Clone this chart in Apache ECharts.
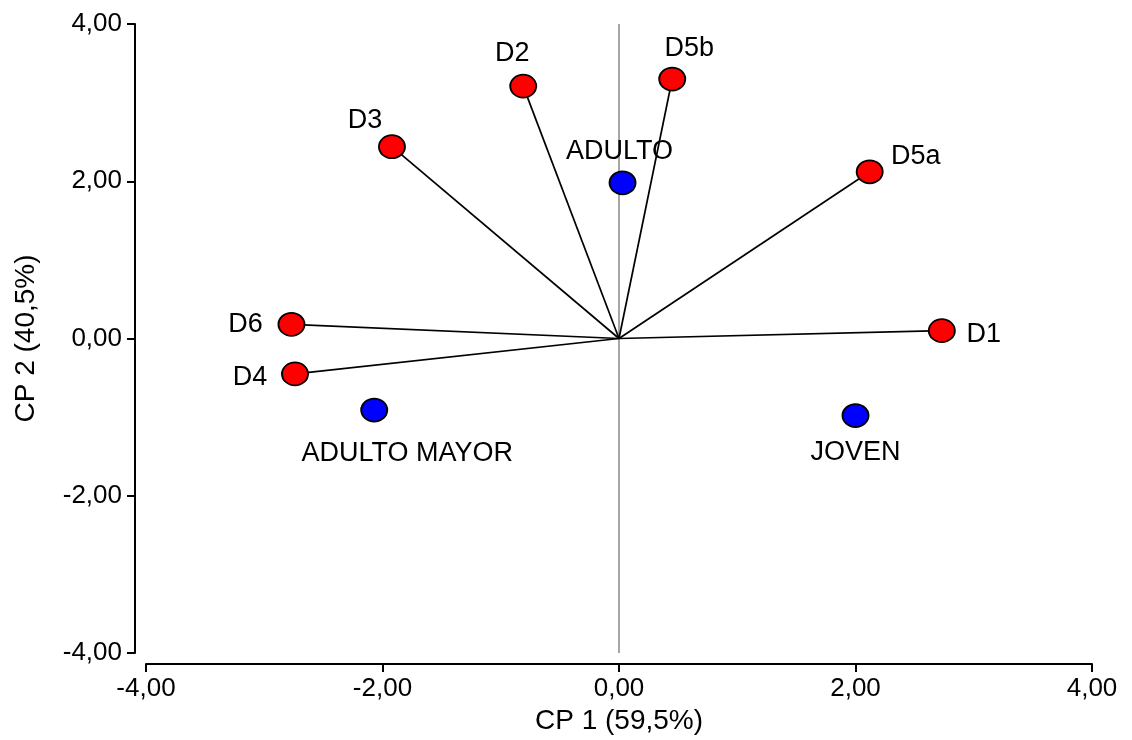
<!DOCTYPE html>
<html>
<head>
<meta charset="utf-8">
<script src="https://cdn.jsdelivr.net/npm/echarts@6/dist/echarts.min.js"></script>
<style>
  html, body { margin: 0; padding: 0; background: #fff; }
  #chart { width: 1132px; height: 740px; }
</style>
</head>
<body>
<div id="chart"></div>
<script>
// Variables (dimensions) - plotted as vectors from the origin
const varNames = ['D1', 'D2', 'D3', 'D4', 'D5a', 'D5b', 'D6'];
const varCP1 = [2.73, -0.81, -1.92, -2.74, 2.12, 0.45, -2.77];
const varCP2 = [0.10, 3.21, 2.44, -0.45, 2.12, 3.30, 0.18];

// Age groups - plotted as points
const groupNames = ['ADULTO', 'ADULTO MAYOR', 'JOVEN'];
const groupCP1 = [0.03, -2.07, 2.00];
const groupCP2 = [1.98, -0.91, -0.98];

// Axis ticks
const axisTicks = [-4, -2, 0, 2, 4];

// Label placement around each marker (pixel offsets of the label centre)
const labelOffset = {
  'D1': [42, 4], 'D2': [-11, -33], 'D3': [-27, -26], 'D4': [-45, 4],
  'D5a': [46, -15], 'D5b': [17, -30], 'D6': [-46, 0],
  'ADULTO': [-3, -31], 'ADULTO MAYOR': [33, 43], 'JOVEN': [0, 37]
};

const FONT = 'Liberation Sans, Arial, sans-serif';
const fmt = v => v.toFixed(2).replace('.', ',');

function pointData(names, xs, ys) {
  return names.map((n, i) => ({
    name: n,
    value: [xs[i], ys[i]],
    label: { offset: labelOffset[n] }
  }));
}

const vectorLines = varNames.map((n, i) => ({ coords: [[0, 0], [varCP1[i], varCP2[i]]] }));

const axisCommon = {
  type: 'value',
  min: axisTicks[0],
  max: axisTicks[axisTicks.length - 1],
  interval: 2,
  offset: 11,
  splitLine: { show: false },
  axisLine: { show: true, onZero: false, lineStyle: { color: '#000', width: 2 } },
  axisTick: { show: true, inside: false, length: 8, lineStyle: { color: '#000', width: 2 } },
  axisLabel: { color: '#000', fontFamily: FONT, fontSize: 26, formatter: fmt },
  nameLocation: 'middle',
  nameTextStyle: { color: '#000', fontFamily: FONT, fontSize: 28 }
};

const pointLabel = {
  show: true,
  position: 'inside',
  formatter: '{b}',
  color: '#000',
  fontFamily: FONT,
  fontSize: 27,
  align: 'center',
  verticalAlign: 'middle'
};

const chart = echarts.init(document.getElementById('chart'), null, { renderer: 'canvas' });
chart.setOption({
  animation: false,
  backgroundColor: '#fff',
  grid: { left: 146, right: 40, top: 24, bottom: 87 },
  xAxis: Object.assign({}, axisCommon, {
    name: 'CP 1 (59,5%)',
    nameGap: 41,
    axisLabel: Object.assign({}, axisCommon.axisLabel, { margin: 12 })
  }),
  yAxis: Object.assign({}, axisCommon, {
    name: 'CP 2 (40,5%)',
    nameGap: 95,
    axisLabel: Object.assign({}, axisCommon.axisLabel, { margin: 13 })
  }),
  series: [
    {
      // vertical reference line at CP 1 = 0
      type: 'line',
      data: [[0, axisTicks[0]], [0, axisTicks[axisTicks.length - 1]]],
      symbol: 'none',
      lineStyle: { color: '#888', width: 1.5 },
      silent: true,
      z: 1
    },
    {
      type: 'lines',
      coordinateSystem: 'cartesian2d',
      data: vectorLines,
      lineStyle: { color: '#000', width: 1.7, opacity: 1 },
      silent: true,
      z: 2
    },
    {
      type: 'scatter',
      data: pointData(varNames, varCP1, varCP2),
      symbol: 'circle',
      symbolSize: [26, 23],
      itemStyle: { color: '#ff0000', borderColor: '#000', borderWidth: 1.8, opacity: 1 },
      label: pointLabel,
      z: 3
    },
    {
      type: 'scatter',
      data: pointData(groupNames, groupCP1, groupCP2),
      symbol: 'circle',
      symbolSize: [26, 23],
      itemStyle: { color: '#0000ff', borderColor: '#000', borderWidth: 1.8, opacity: 1 },
      label: pointLabel,
      z: 3
    }
  ]
});
</script>
</body>
</html>
